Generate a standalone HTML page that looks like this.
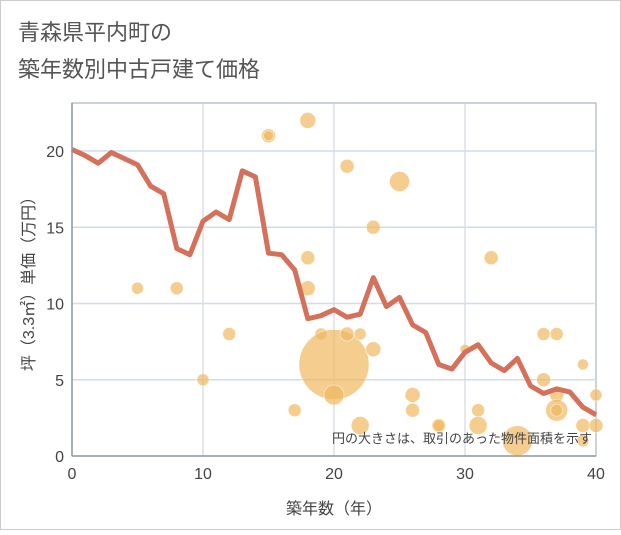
<!DOCTYPE html>
<html><head><meta charset="utf-8"><style>
body{margin:0;background:#fff;font-family:"Liberation Sans","Noto Sans CJK JP",sans-serif;}
#wrap{position:relative;width:621px;height:530px;}
</style></head><body>
<div id="wrap">
<svg id="c" width="621" height="530" xmlns="http://www.w3.org/2000/svg">
<rect x="0.5" y="0.5" width="620" height="529" fill="#fff" stroke="#ccc"/>
<text x="18" y="40" font-size="22" fill="#555" font-family="Liberation Sans,Noto Sans CJK JP,sans-serif">青森県平内町の</text>
<text x="18" y="77" font-size="22" fill="#555" font-family="Liberation Sans,Noto Sans CJK JP,sans-serif">築年数別中古戸建て価格</text>
<g id="grid"></g><g id="pts"></g><g id="ln"></g><g id="ax"></g>
<text x="592" y="443" font-size="13" fill="#444" text-anchor="end" font-family="Liberation Sans,Noto Sans CJK JP,sans-serif">円の大きさは、取引のあった物件面積を示す</text>
<text x="334" y="514" font-size="16" fill="#444" text-anchor="middle" font-family="Liberation Sans,Noto Sans CJK JP,sans-serif">築年数（年）</text>
<text transform="translate(34,280) rotate(-90)" font-size="16" fill="#444" text-anchor="middle" font-family="Liberation Sans,Noto Sans CJK JP,sans-serif">坪（3.3㎡）単価（万円）</text>
</svg></div>
<script>
const lineYears=[0,1,2,3,4,5,6,7,8,9,10,11,12,13,14,15,16,17,18,19,20,21,22,23,24,25,26,27,28,29,30,31,32,33,34,35,36,37,38,39,40];
const lineValues=[20.1,19.7,19.2,19.9,19.5,19.1,17.7,17.2,13.6,13.2,15.4,16.0,15.5,18.7,18.3,13.3,13.2,12.2,9.0,9.2,9.6,9.1,9.3,11.7,9.8,10.4,8.6,8.1,6.0,5.7,6.8,7.3,6.1,5.6,6.4,4.6,4.1,4.4,4.2,3.2,2.7];
const ptX=[5,8,10,12,15,15,17,18,18,18,19,20,20,21,21,22,22,23,23,25,26,26,28,28,30,31,31,32,34,36,36,37,37,37,37,39,39,39,40,40];
const ptY=[11,11,5,8,21,21,3,22,13,11,8,6,4,19,8,8,2,15,7,18,4,3,2,2,7,3,2,13,1,8,5,8,4,3,3,6,2,1,4,2];
const ptSize=[6,6.5,6,6.5,7,5,6.5,8,7,7.5,6,35,10,7,7,6,9,7,7.5,10,7.5,7,7,6,5,6.5,9,7,15,6.5,7,6.5,7,11,6,5.5,7,6,6,7];
const xTicks=[0,10,20,30,40];
const yTicks=[0,5,10,15,20];
const L=72,R=596,T=103,B=456;
const sx=v=>L+(v-0)*(R-L)/40;
const sy=v=>B-v*(B-151)/20;
const NS='http://www.w3.org/2000/svg';
function mk(p,t,a){const e=document.createElementNS(NS,t);for(const k in a)e.setAttribute(k,a[k]);document.getElementById(p).appendChild(e);return e;}
mk('grid','rect',{x:L,y:T,width:R-L,height:B-T,fill:'none',stroke:'#9aa6b4'});
xTicks.forEach(t=>{if(t>0&&t<40){const g=mk('grid','line',{x1:sx(t),x2:sx(t),y1:T,y2:B,stroke:'#c8d0dc'});

}
const tx=mk('ax','text',{x:sx(t),y:479,'font-size':16,fill:'#444','text-anchor':'middle'});tx.textContent=t;

});
yTicks.forEach(t=>{if(t>0){const g=mk('grid','line',{x1:L,x2:R,y1:sy(t),y2:sy(t),stroke:'#cfdceb','stroke-width':1.5});

}
const tx=mk('ax','text',{x:64,y:sy(t)+6,'font-size':16,fill:'#444','text-anchor':'end'});tx.textContent=t;

});
mk('ax','line',{x1:L,x2:L,y1:T,y2:B,stroke:'#8a96a4','stroke-width':1.5});
mk('ax','line',{x1:L,x2:R,y1:B,y2:B,stroke:'#8a96a4','stroke-width':1.5});
ptX.forEach((x,i)=>{const c=mk('pts','circle',{cx:sx(x),cy:sy(ptY[i]),r:ptSize[i],fill:'#f0b860','fill-opacity':0.7,stroke:'#fff','stroke-width':0.8,'stroke-opacity':0.6});

});
const p=mk('ln','polyline',{points:lineYears.map((x,i)=>sx(x)+','+sy(lineValues[i])).join(' '),fill:'none',stroke:'#d5705a','stroke-width':5,'stroke-linejoin':'round'});


</script>
</body></html>
